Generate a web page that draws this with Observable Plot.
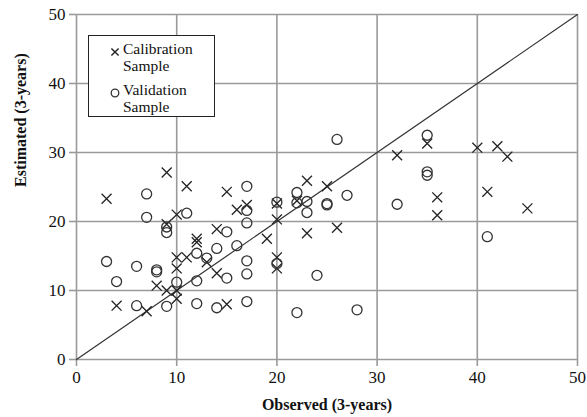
<!DOCTYPE html>
<html>
<head>
<meta charset="utf-8">
<script src="https://cdn.jsdelivr.net/npm/d3@7"></script>
<script src="https://cdn.jsdelivr.net/npm/@observablehq/plot@0.6"></script>
<style>
  body { margin: 0; background: #fff; }
  #wrap { position: relative; width: 587px; height: 417px; font-family: "Liberation Serif", "Times New Roman", serif; }
  #wrap svg text { font-family: "Liberation Serif", "Times New Roman", serif; }
  #legend { position: absolute; left: 88px; top: 35px; width: 125px; height: 80px; border: 1.3px solid #222; background: #fff; font-size: 15.5px; line-height: 17px; color: #111; }
  .item { position: absolute; left: 34px; }
  .sym { position: absolute; left: -13px; top: 3px; }
</style>
</head>
<body>
<div id="wrap"></div>
<script>
// Calibration sample: [observed, estimated]
const calObserved  = [3, 9, 11, 15, 16, 17, 10, 9, 12, 12, 14, 10, 11, 10, 13, 14, 8, 9, 10, 10, 4, 7, 15, 20, 20, 19, 20, 20, 23, 25, 22, 23, 26, 32, 35, 40, 42, 43, 36, 36, 41, 45];
const calEstimated = [23.3, 27.1, 25.1, 24.3, 21.7, 22.4, 21, 19.6, 17.5, 17, 18.9, 14.8, 14.8, 13.2, 14.1, 12.5, 10.7, 10, 10, 8.8, 7.8, 7, 8, 22.6, 20.3, 17.5, 14.8, 13.2, 25.9, 25.1, 23, 18.3, 19.1, 29.6, 31.3, 30.7, 30.9, 29.4, 23.5, 20.9, 24.3, 21.9];
// Validation sample
const valObserved  = [3, 4, 6, 8, 8, 7, 7, 11, 9, 9, 10, 12, 13, 14, 12, 15, 6, 9, 12, 14, 16, 15, 17, 17, 17, 17, 17, 17, 20, 20, 22, 22, 23, 23, 25, 25, 27, 26, 24, 22, 28, 32, 35, 35, 35, 41];
const valEstimated = [14.2, 11.3, 13.5, 13, 12.7, 24, 20.6, 21.2, 18.4, 19.2, 11.2, 15.4, 14.7, 16.1, 11.4, 11.8, 7.8, 7.7, 8.1, 7.5, 16.5, 18.5, 25.1, 21.6, 19.8, 14.3, 12.4, 8.4, 22.8, 13.9, 24.2, 22.7, 22.9, 21.3, 22.6, 22.4, 23.8, 31.9, 12.2, 6.8, 7.2, 22.5, 32.5, 27.2, 26.7, 17.8];
const ticks = [0, 10, 20, 30, 40, 50];
const xLabel = "Observed (3-years)";
const yLabel = "Estimated (3-years)";
const legendLabels = [["Calibration", "Sample"], ["Validation", "Sample"]];

const cal = calObserved.map((x, i) => ({x, y: calEstimated[i]}));
const val = valObserved.map((x, i) => ({x, y: valEstimated[i]}));
const diag = [{x: 0, y: 0}, {x: 50, y: 50}];
const serif = "Liberation Serif";

const chart = Plot.plot({
  width: 587,
  height: 417,
  marginLeft: 76,
  marginRight: 10,
  marginTop: 14,
  marginBottom: 58,
  style: {fontFamily: serif, fontSize: "17px", color: "#111", background: "#fff"},
  x: {domain: [0, 50], ticks: ticks},
  y: {domain: [0, 50], ticks: ticks},
  marks: [
    Plot.gridX(ticks, {stroke: "#9a9a9a", strokeOpacity: 1, strokeWidth: 1.6}),
    Plot.gridY(ticks, {stroke: "#9a9a9a", strokeOpacity: 1, strokeWidth: 1.6}),
    Plot.axisX(ticks, {tickSize: 7, stroke: "#9a9a9a", strokeWidth: 1.6, tickPadding: 4, fontSize: 17, fontFamily: serif, fill: "#111", label: null}),
    Plot.axisY(ticks, {tickSize: 7, stroke: "#9a9a9a", strokeWidth: 1.6, tickPadding: 4, fontSize: 17, fontFamily: serif, fill: "#111", label: null}),
    Plot.line(diag, {x: "x", y: "y", stroke: "#333", strokeWidth: 1.2}),
    Plot.dot(cal, {x: "x", y: "y", symbol: "times", r: 4.6, stroke: "#222", strokeWidth: 1.3}),
    Plot.dot(val, {x: "x", y: "y", symbol: "circle", r: 5, stroke: "#333", strokeWidth: 1.3, fill: "none"}),
    Plot.text([xLabel], {frameAnchor: "bottom", dy: 50, text: d => d, fontWeight: "bold", fontSize: 16, fontFamily: serif, fill: "#111"}),
    Plot.text([yLabel], {frameAnchor: "left", dx: -56, rotate: -90, text: d => d, fontWeight: "bold", fontSize: 16, fontFamily: serif, fill: "#111"})
  ]
});

const wrap = document.getElementById("wrap");
wrap.appendChild(chart);

const legend = document.createElement("div");
legend.id = "legend";
const symSvg = [
  `<svg width="10" height="10" viewBox="-5 -5 10 10"><path d="M-3.6,-3.6L3.6,3.6M3.6,-3.6L-3.6,3.6" stroke="#222" stroke-width="1.4"/></svg>`,
  `<svg width="10" height="10" viewBox="-5 -5 10 10"><circle r="3.8" fill="none" stroke="#333" stroke-width="1.3"/></svg>`
];
legendLabels.forEach((lines, i) => {
  const item = document.createElement("div");
  item.className = "item";
  item.style.top = (i === 0 ? 4 : 45) + "px";
  item.innerHTML = `<span class="sym">${symSvg[i]}</span>${lines[0]}<br>${lines[1]}`;
  legend.appendChild(item);
});
wrap.appendChild(legend);
</script>
</body>
</html>
